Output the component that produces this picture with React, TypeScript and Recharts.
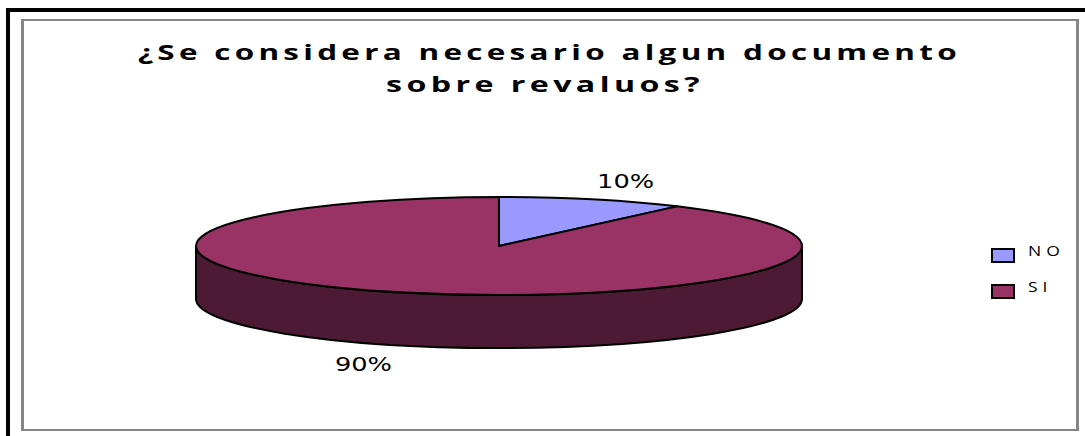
import React from "react";
import { PieChart, Pie, Cell, Legend } from "recharts";

const categories = ["NO", "SI"];
const shares = [10, 90];
const topColors = ["#9999FF", "#993366"];
const titleLines = ["¿Se considera necesario algun documento", "sobre revaluos?"];

const chartData = categories.map((name, i) => ({ name, value: shares[i] }));

const RADIAN = Math.PI / 180;
const TILT = 49 / 303; // ry / rx of the top face
const DEPTH = 53;
const WALL_COLOR = "#4C1B33";

// point on the top face for a recharts angle (ccw from east)
const onRim = (cx: number, cy: number, rx: number, angle: number) => ({
  x: cx + rx * Math.cos(angle * RADIAN),
  y: cy - rx * TILT * Math.sin(angle * RADIAN),
});

// Flattened sector plus the extruded wall along the front half of the rim
const renderSlice = (props: any) => {
  const { cx, cy, outerRadius: rx, startAngle, endAngle, fill } = props;
  const ry = rx * TILT;
  const a = onRim(cx, cy, rx, startAngle);
  const b = onRim(cx, cy, rx, endAngle);
  const large = Math.abs(startAngle - endAngle) > 180 ? 1 : 0;
  const top = `M${cx},${cy}L${a.x},${a.y}A${rx},${ry} 0 ${large} 1 ${b.x},${b.y}Z`;

  // front wall only where the slice covers angles -180..0
  const from = Math.min(startAngle, 0);
  const to = Math.max(endAngle, -180);
  let wall = null;
  if (from > to) {
    const p = onRim(cx, cy, rx, from);
    const q = onRim(cx, cy, rx, to);
    wall = (
      <path
        d={`M${p.x},${p.y}A${rx},${ry} 0 0 1 ${q.x},${q.y}L${q.x},${q.y + DEPTH}A${rx},${ry} 0 0 0 ${p.x},${p.y + DEPTH}Z`}
        fill={WALL_COLOR}
        stroke="#000"
        strokeWidth={2}
      />
    );
  }

  return (
    <g>
      {wall}
      <path d={top} fill={fill} stroke="#000" strokeWidth={2} strokeLinejoin="round" />
    </g>
  );
};

const renderPercent = (props: any) => {
  const { cx, cy, outerRadius: rx, midAngle, percent } = props;
  const pos = onRim(cx, cy, rx * 1.4, midAngle);
  const front = Math.sin(midAngle * RADIAN) < 0;
  return (
    <text
      x={pos.x - 4.5}
      y={pos.y + (front ? DEPTH : 0)}
      textAnchor="middle"
      dominantBaseline="central"
      fontFamily="'DejaVu Sans', sans-serif"
      fontSize={19}
      fill="#000"
      textLength={57}
      lengthAdjust="spacingAndGlyphs"
    >
      {`${(percent * 100).toFixed(0)}%`}
    </text>
  );
};

const renderLegend = ({ payload }: any) => (
  <div>
    {payload.map((entry: any) => (
      <div
        key={entry.value}
        style={{ position: "relative", height: 36, width: 80 }}
      >
        <div
          style={{
            position: "absolute",
            left: 0,
            top: 2,
            width: 20,
            height: 11,
            background: entry.color,
            border: "2px solid #000",
          }}
        />
        <span
          style={{
            position: "absolute",
            left: 37,
            top: -5,
            fontFamily: "'Open Sans', sans-serif",
            fontSize: 14,
            letterSpacing: 4,
            color: "#000",
            transform: "scaleX(1.25)",
            transformOrigin: "left",
          }}
        >
          {entry.value}
        </span>
      </div>
    ))}
  </div>
);

export default function App() {
  return (
    <div style={{ position: "absolute", left: 0, top: 0, width: 1085, height: 436, background: "#fff", overflow: "hidden" }}>
      {/* outer rule, open on the right and bottom */}
      <div style={{ position: "absolute", left: 6, top: 8, width: 1079, height: 4, background: "#000" }} />
      <div style={{ position: "absolute", left: 6, top: 8, width: 4, height: 428, background: "#000" }} />
      {/* chart area border */}
      <div
        style={{
          position: "absolute",
          left: 21,
          top: 19,
          width: 1052,
          height: 408,
          border: "3px solid #868686",
          borderTopWidth: 2,
          borderBottomWidth: 2,
        }}
      />
      <div style={{ position: "absolute", left: 0, top: 0 }}>
        <PieChart width={1085} height={436} margin={{ top: 0, right: 0, bottom: 0, left: 0 }}>
          <text
            x={549.5}
            y={60}
            textAnchor="middle"
            fontFamily="'Open Sans', sans-serif"
            fontWeight={700}
            fontSize={22}
            letterSpacing={3}
            fill="#000"
            textLength={823}
            lengthAdjust="spacingAndGlyphs"
          >
            {titleLines[0]}
          </text>
          <text
            x={545}
            y={92}
            textAnchor="middle"
            fontFamily="'Open Sans', sans-serif"
            fontWeight={700}
            fontSize={22}
            letterSpacing={3}
            fill="#000"
            textLength={318}
            lengthAdjust="spacingAndGlyphs"
          >
            {titleLines[1]}
          </text>
          <Pie
            data={chartData}
            dataKey="value"
            nameKey="name"
            cx={499}
            cy={246}
            outerRadius={303}
            startAngle={90}
            endAngle={-270}
            shape={renderSlice}
            label={renderPercent}
            labelLine={false}
            stroke="#000"
            isAnimationActive={false}
          >
            {chartData.map((entry, index) => (
              <Cell key={`cell-${index}`} fill={topColors[index]} />
            ))}
          </Pie>
          <Legend
            content={renderLegend}
            layout="vertical"
            wrapperStyle={{ position: "absolute", left: 991, top: 246, width: 90, bottom: "auto", right: "auto" }}
          />
        </PieChart>
      </div>
    </div>
  );
}
